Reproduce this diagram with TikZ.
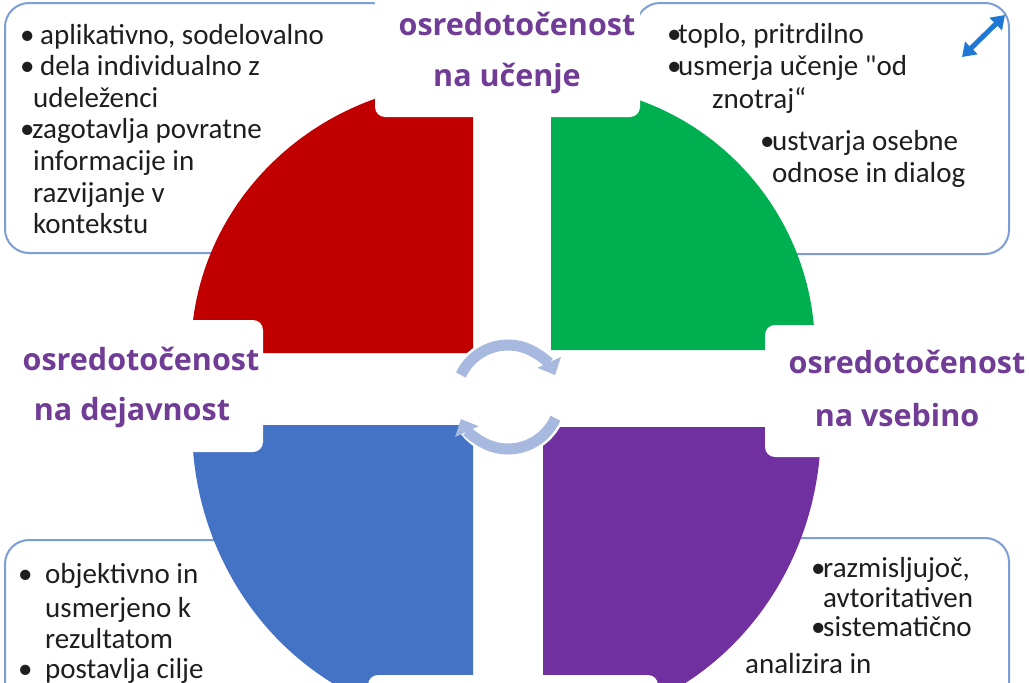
\documentclass[tikz,border=0pt]{standalone}
\usepackage{fontspec}
\setmainfont{Carlito}[Ligatures=TeXOff]
\newfontfamily\lblfont{Open Sans}[BoldFont={Open Sans Bold}]
\usetikzlibrary{arrows.meta}

\definecolor{redq}{RGB}{192,0,0}
\definecolor{greenq}{RGB}{0,176,80}
\definecolor{blueq}{RGB}{68,114,196}
\definecolor{purpleq}{RGB}{112,48,160}
\definecolor{lblpurple}{RGB}{112,60,150}
\definecolor{frameblue}{RGB}{125,157,215}
\definecolor{cyclearr}{RGB}{168,185,224}
\definecolor{iconblue}{RGB}{30,120,212}
\definecolor{txtgray}{RGB}{30,30,30}

\newcommand{\pika}[1]{\makebox[#1][l]{•}}

\tikzset{
  txt/.style={anchor=base west, inner sep=0pt, text=txtgray, font=\fontsize{29}{31}\selectfont},
  lbl/.style={anchor=base, inner sep=0pt, text=lblpurple, font=\lblfont\bfseries\fontsize{30.5}{32}\selectfont},
  txtframe/.style={draw=frameblue, line width=2pt, fill=white, rounded corners=24pt},
  gapbox/.style={fill=white, rounded corners=10pt},
}

\begin{document}
\begin{tikzpicture}[x=1pt,y=-1pt]
        \useasboundingbox (0,0) rectangle (1029,683);
        \clip (0,0) rectangle (1029,683);
        \fill[white] (0,0) rectangle (1029,683);

        % corners of the four quarters
        \coordinate (cR) at (473,353);
        \coordinate (cG) at (551,350);
        \coordinate (cB) at (473,425);
        \coordinate (cP) at (543,427);
        \coordinate (mid) at (508,397);
        \coordinate (iconA) at (962,57);
        \coordinate (iconB) at (1005,15);

        % text frames
        \draw[txtframe] (5,3) rectangle (395,253);
        \draw[txtframe] (636,3) rectangle (1009,254);
        \draw[txtframe] (5,540) rectangle (395,730);
        \draw[txtframe] (636,538) rectangle (1009,730);

        % quarters
        \fill[redq] (cR) -- ++(-282,0) arc[start angle=180, end angle=270, x radius=282, y radius=271] -- cycle;
        \fill[greenq] (cG) -- ++(0,-265) arc[start angle=270, end angle=360, x radius=264, y radius=265] -- cycle;
        \fill[blueq] (cB) -- ++(-281,0) arc[start angle=180, end angle=90, x radius=281, y radius=298] -- cycle;
        \fill[purpleq] (cP) -- ++(278,0) arc[start angle=0, end angle=90, x radius=278, y radius=298] -- cycle;

        % white boxes under the headings
        \fill[gapbox] (375,-30) rectangle (640,117);
        \fill[gapbox] (-30,320) rectangle (263,452);
        \fill[gapbox] (765,325) rectangle (1060,457);
        \fill[gapbox] (368,675) rectangle (658,720);

        % cycle arrows
        \draw[white, line width=16pt] (mid) ++(-155:52) arc[start angle=-155, end angle=-35, radius=52];
        \draw[white, line width=16pt] (mid) ++(24:52) arc[start angle=24, end angle=145, radius=52];
        \draw[cyclearr, line width=11pt, -{Triangle[width=25pt,length=14pt]}] (mid) ++(-155:52) arc[start angle=-155, end angle=-25, radius=52];
        \draw[cyclearr, line width=11pt, -{Triangle[width=25pt,length=14pt]}] (mid) ++(24:52) arc[start angle=24, end angle=155, radius=52];

        % expand icon
        \draw[iconblue, line width=5pt, {Triangle[width=17pt,length=13pt]}-{Triangle[width=17pt,length=13pt]}] (iconA) -- (iconB);

        % headings
        \node[lbl] (lblT1) at (517,35) {osredotočenost};
        \node[lbl] (lblT2) at (507,86) {na učenje};
        \node[lbl] (lblL1) at (141,370) {osredotočenost};
        \node[lbl] (lblL2) at (132,420) {na dejavnost};
        \node[lbl] (lblR1) at (907,373) {osredotočenost};
        \node[lbl] (lblR2) at (897,426) {na vsebino};

        % top left
        \node[txt] (tl1) at (20,44) {\pika{20pt}aplikativno, sodelovalno};
        \node[txt] (tl2) at (20,75) {\pika{20pt}dela individualno z};
        \node[txt] (tl3) at (33,107) {udeleženci};
        \node[txt] (tl4) at (20,138) {\pika{12pt}zagotavlja povratne};
        \node[txt] (tl5) at (33,170) {informacije in};
        \node[txt] (tl6) at (33,202) {razvijanje v};
        \node[txt] (tl7) at (33,233) {kontekstu};

        % top right
        \node[txt] (tr1) at (667,43) {\pika{11pt}toplo, pritrdilno};
        \node[txt] (tr2) at (667,75) {\pika{11pt}usmerja učenje "od};
        \node[txt] (tr3) at (712,108) {znotraj“};
        \node[txt] (tr4) at (760,150) {\pika{12pt}ustvarja osebne};
        \node[txt] (tr5) at (772,182) {odnose in dialog};

        % bottom left
        \node[txt] (bl1) at (18,583) {\pika{27pt}objektivno in};
        \node[txt] (bl2) at (45,617) {usmerjeno k};
        \node[txt] (bl3) at (45,648) {rezultatom};
        \node[txt] (bl4) at (18,678) {\pika{27pt}postavlja cilje};

        % bottom right
        \node[txt] (br1) at (811,577) {\pika{12pt}razmisljujoč,};
        \node[txt] (br2) at (823,607) {avtoritativen};
        \node[txt] (br3) at (811,636) {\pika{12pt}sistematično};
        \node[txt] (br4) at (745,673) {analizira in};
    \end{tikzpicture}
\end{document}
